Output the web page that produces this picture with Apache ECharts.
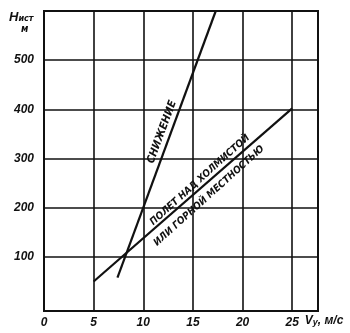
<!DOCTYPE html>
<html><head><meta charset="utf-8">
<script src="https://cdn.jsdelivr.net/npm/echarts@6/dist/echarts.min.js"></script>
<style>html,body{margin:0;padding:0;background:#fff}#c{width:350px;height:333px}</style>
</head><body><div id="c"></div>
<script>
// Data
var xTicks = [0, 5, 10, 15, 20, 25];
var yTicks = [100, 200, 300, 400, 500];
var descentX = [7.4, 17.3];
var descentY = [58, 600];
var terrainX = [5, 25];
var terrainY = [50, 402];
var descentLabel = 'СНИЖЕНИЕ';
var terrainLabel1 = 'ПОЛЕТ НАД ХОЛМИСТОЙ';
var terrainLabel2 = 'ИЛИ ГОРНОЙ МЕСТНОСТЬЮ';

var FONT = "'Liberation Sans Narrow','DejaVu Sans Condensed','Liberation Sans',sans-serif";
var INK = '#111';

function pairs(xs, ys){ return xs.map(function(x,i){return [x, ys[i]];}); }

var chart = echarts.init(document.getElementById('c'), null, {renderer:'canvas'});
chart.setOption({
  animation: false,
  backgroundColor: '#fff',
  grid: {left: 44, right: 32, top: 11, bottom: 22, show: true, borderColor: INK, borderWidth: 2, backgroundColor: 'transparent'},
  xAxis: {
    type: 'value', min: 0, max: 27.6,
    axisLine: {show: false},
    splitLine: {show: true, lineStyle: {color: INK, width: 1.6}},
    axisLabel: {customValues: xTicks, color: INK, fontSize: 12, fontStyle: 'italic', fontWeight: 'bold', fontFamily: 'Liberation Sans', margin: 6},
    axisTick: {show: false, customValues: xTicks},
    name: '{v|V}{s|у}{v|, м/с}', nameLocation: 'end', nameGap: -16,
    nameTextStyle: {color: INK, verticalAlign: 'top', padding: [8,0,0,0], align: 'left',
      rich: {v: {fontSize: 12, fontStyle: 'italic', fontWeight: 'bold', fontFamily: 'Liberation Sans', color: INK},
             s: {fontSize: 9, fontStyle: 'italic', fontWeight: 'bold', fontFamily: 'Liberation Sans', color: INK, padding: [4,0,0,0]}}}
  },
  yAxis: {
    type: 'value', min: -10, max: 600,
    axisLine: {show: false},
    axisTick: {show: false, customValues: yTicks},
    splitLine: {show: true, lineStyle: {color: INK, width: 1.6}},
    axisLabel: {customValues: yTicks, color: INK, fontSize: 12, fontStyle: 'italic', fontWeight: 'bold', fontFamily: 'Liberation Sans', margin: 10}
  },
  series: [
    {type: 'line', data: pairs(descentX, descentY), symbol: 'none', lineStyle: {color: INK, width: 2.2}},
    {type: 'line', data: pairs(terrainX, terrainY), symbol: 'none', lineStyle: {color: INK, width: 2.2}}
  ],
  graphic: [
    {type: 'text', left: 9, top: 11, style: {text: '{h|Н}{s|ист}\n{m|м}', fill: INK,
      rich: {h: {fontSize: 13, fontStyle: 'italic', fontWeight: 'bold', fontFamily: 'Liberation Sans', fill: INK},
             s: {fontSize: 9, fontStyle: 'italic', fontWeight: 'bold', fontFamily: FONT, fill: INK, padding: [3,0,0,0]},
             m: {fontSize: 10, fontStyle: 'italic', fontWeight: 'bold', fontFamily: FONT, fill: INK, padding: [0,0,0,12]}}}},
    {type: 'text', x: 162, y: 132, rotation: 69.7*Math.PI/180,
      style: {text: descentLabel, fill: INK, fontSize: 11, fontStyle: 'italic', fontWeight: 'bold', fontFamily: FONT, align: 'center', verticalAlign: 'middle'}},
    {type: 'text', x: 200, y: 180, rotation: 42*Math.PI/180,
      style: {text: terrainLabel1, fill: INK, fontSize: 10, fontStyle: 'italic', fontWeight: 'bold', fontFamily: FONT, align: 'center', verticalAlign: 'middle'}},
    {type: 'text', x: 209, y: 196, rotation: 42*Math.PI/180,
      style: {text: terrainLabel2, fill: INK, fontSize: 10, fontStyle: 'italic', fontWeight: 'bold', fontFamily: FONT, align: 'center', verticalAlign: 'middle'}}
  ]
});
</script></body></html>
